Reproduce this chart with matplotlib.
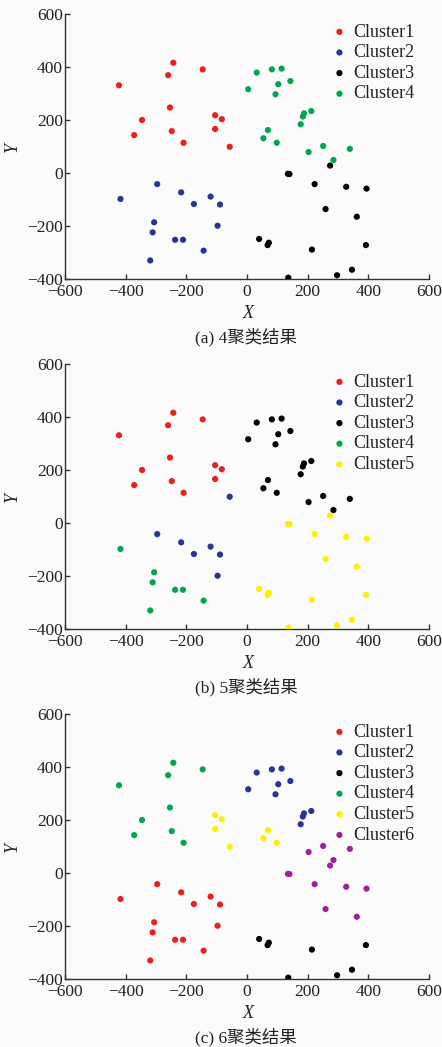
import numpy as np
import matplotlib
matplotlib.use('Agg')
import matplotlib.pyplot as plt

plt.rcParams['font.family'] = ['Liberation Serif', 'Noto Sans CJK SC']

# point coordinates (same 60 points in every panel)
xs = [-422, -243, -260, -146, -346, -372, -254, -248, -209, -105, -83, -105, -57,
      -417, -296, -217, -175, -120, -89, -306, -311, -97, -237, -211, -143, -319,
      4, 32, 82, 114, 103, 143, 94, 212, 188, 184, 177, 69, 54, 98, 251, 203, 339, 285,
      274, 135, 140, 223, 327, 394, 259, 362, 40, 72, 68, 214, 392, 346, 297, 136]
ys = [331, 416, 369, 391, 200, 143, 247, 158, 114, 218, 203, 166, 99,
      -98, -42, -73, -117, -89, -119, -186, -224, -199, -252, -252, -293, -330,
      316, 379, 391, 394, 335, 347, 297, 234, 225, 213, 184, 162, 131, 114, 102, 79, 91, 49,
      28, -3, -4, -42, -52, -59, -136, -165, -249, -263, -272, -289, -272, -365, -386, -395]

# cluster labels per panel
labels_4 = [1] * 13 + [2] * 13 + [4] * 18 + [3] * 16
labels_5 = [1] * 12 + [2] + [4] + [2] * 5 + [4] * 2 + [2] + [4] * 4 + [3] * 18 + [5] * 16
labels_6 = ([4] * 9 + [5] * 4 + [1] * 13 + [2] * 7 + [2] * 4 + [5] * 3
            + [6] * 4 + [6] * 8 + [3] * 8)

captions = ['(a) 4聚类结果', '(b) 5聚类结果', '(c) 6聚类结果']
colors = {1: '#e8201e', 2: '#283593', 3: '#000000', 4: '#00a651', 5: '#ffee00', 6: '#a0229a'}

W, H = 442, 1047
fig = plt.figure(figsize=(W / 100, H / 100), dpi=100)
fig.patch.set_facecolor('#fbfbfb')

def fx(px):
    return px / W

def fy(py):
    return 1 - py / H

# axes boxes in pixels: (left, top, right, bottom)
boxes = [(65, 14, 429, 279), (65, 364, 429, 629), (65, 714, 429, 979)]
all_labels = [labels_4, labels_5, labels_6]
xs = np.array(xs)
ys = np.array(ys)
ink = '#222222'

for (l, t, r, b), labs, cap in zip(boxes, all_labels, captions):
    ax = fig.add_axes([fx(l), fy(b), (r - l) / W, (b - t) / H])
    ax.set_facecolor('#fbfbfb')
    labs = np.array(labs)
    for k in sorted(set(labs)):
        m = labs == k
        ax.scatter(xs[m], ys[m], s=20, color=colors[k], label=f'Cluster{k}',
                   edgecolors='none', zorder=3)
    ax.set_xlim(-600, 600)
    ax.set_ylim(-400, 600)
    ax.set_xticks(range(-600, 601, 200))
    ax.set_yticks(range(-400, 601, 200))
    ax.set_xticklabels([str(v).replace('-', '\u2212') for v in range(-600, 601, 200)])
    ax.set_yticklabels([str(v).replace('-', '\u2212') for v in range(-400, 601, 200)])
    for s in ['top', 'right']:
        ax.spines[s].set_visible(False)
    for s in ['left', 'bottom']:
        ax.spines[s].set_color('#333333')
        ax.spines[s].set_linewidth(1.0)
    ax.tick_params(direction='in', length=3.5, width=1, color='#333333',
                   labelsize=12.5, pad=1.5, labelcolor=ink)
    ax.tick_params(axis='x', pad=3.5)
    leg = ax.legend(loc='upper left',
                    bbox_to_anchor=((325 - l) / (r - l), 1 - 6 / (b - t)),
                    frameon=False, fontsize=13, handletextpad=0.15, labelspacing=0.2,
                    borderaxespad=0.0, borderpad=0.2, handlelength=1.2)
    for txt in leg.get_texts():
        txt.set_color(ink)
    fig.text(fx(248), fy(b + 34), 'X', fontstyle='italic', fontsize=13,
             ha='center', va='center', color=ink)
    fig.text(fx(12), fy((t + b) / 2), 'Y', fontstyle='italic', fontsize=13,
             rotation=90, ha='center', va='center', color=ink)
    fig.text(fx(246), fy(b + 58), cap, ha='center', va='center',
             fontsize=12.5, color=ink)

fig.savefig('out.png', dpi=100, facecolor=fig.get_facecolor())
